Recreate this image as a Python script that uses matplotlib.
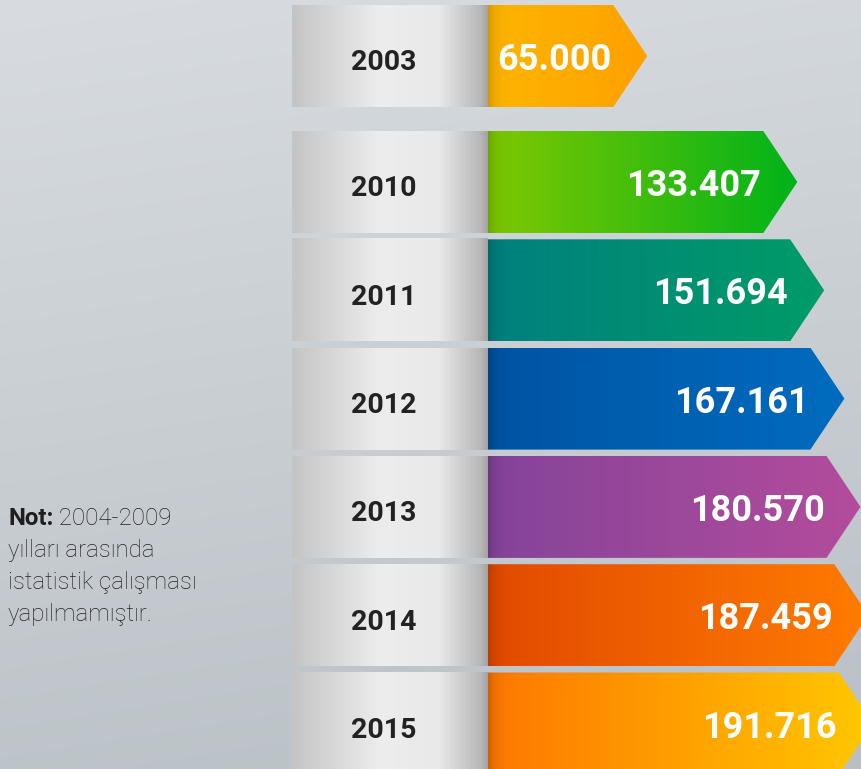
import numpy as np
import matplotlib
matplotlib.use("Agg")
import matplotlib.pyplot as plt
from matplotlib.colors import to_rgb
from matplotlib.patches import Polygon

# ---------------- data ----------------
years = ["2003", "2010", "2011", "2012", "2013", "2014", "2015"]
values = [65000, 133407, 151694, 167161, 180570, 187459, 191716]
value_labels = ["65.000", "133.407", "151.694", "167.161", "180.570", "187.459", "191.716"]
note_bold = "Not:"
note_rest = " 2004-2009"
note_lines = ["yılları arasında", "istatistik çalışması", "yapılmamıştır."]

# gradient colours per bar (left, right)
bar_colors = [
    ("#ffb600", "#ffa000"),
    ("#80c800", "#00b31a"),
    ("#00807f", "#009c68"),
    ("#0053a3", "#006cbf"),
    ("#84449a", "#b44c9c"),
    ("#e24a00", "#ff7c00"),
    ("#ff7800", "#ffc800"),
]

W, H = 861, 769
DPI = 100
fig = plt.figure(figsize=(W / DPI, H / DPI), dpi=DPI)

# base axes in pixel units (y downward)
ax = fig.add_axes([0, 0, 1, 1])
ax.set_xlim(0, W)
ax.set_ylim(H, 0)
ax.axis("off")

# value axes: log scale starting at the arrow base
x0_px = 488
ax2 = fig.add_axes([x0_px / W, 0, 1 - x0_px / W, 1])
ax2.set_xscale("log")
ax2.set_xlim(30300, 181000)
ax2.set_ylim(H, 0)
ax2.axis("off")
ax2.patch.set_alpha(0)

# background gradient
gy = np.linspace(0, 1, 256)[:, None]
gx = np.linspace(0, 1, 256)[None, :]
t = np.clip(0.85 * gy + 0.15 * gx, 0, 1)
top = np.array(to_rgb("#d8dce0"))
bot = np.array(to_rgb("#b9c0c5"))
bg = top[None, None, :] * (1 - t[..., None]) + bot[None, None, :] * t[..., None]
ax.imshow(bg, extent=(0, W, H, 0), aspect="auto", zorder=0, interpolation="bilinear")

# row layout
row_h = 102
first_top = 5
gap_top = 131
pitch = 108.3
tops = [first_top] + [gap_top + (i - 1) * pitch for i in range(1, len(years))]

box_x0, box_x1 = 292, x0_px
box_stops = [0.0, 0.45, 0.75, 0.96, 1.0]
box_cols = ["#c4c4c4", "#ededed", "#e9e9e9", "#b8b8b8", "#a4a4a4"]
xs = np.linspace(0, 1, 200)
box_grad = np.stack([np.interp(xs, box_stops, [to_rgb(c)[k] for c in box_cols]) for k in range(3)], axis=-1)[None, :, :]

point_w = 34

fig.canvas.draw()
inv = ax.transData.inverted()
fam = ["Roboto", "DejaVu Sans"]

for i, (yr, v, lab, (c0, c1)) in enumerate(zip(years, values, value_labels, bar_colors)):
    yt = tops[i]
    yb = yt + row_h
    yc = yt + row_h / 2

    # year box
    ax.imshow(box_grad, extent=(box_x0, box_x1, yb, yt), aspect="auto", zorder=2,
              interpolation="bilinear")
    ax.text((box_x0 + box_x1) / 2 - 6, yc + 7, yr, ha="center", va="center",
            fontsize=20.5, fontweight="bold", family=fam,
            color="#222222", zorder=5)

    # tip location via log scale
    tip_disp = ax2.transData.transform((v, 0))
    tip_x = inv.transform(tip_disp)[0]
    body_end = tip_x - point_w
    verts = [(x0_px, yt), (body_end, yt), (tip_x, yc), (body_end, yb), (x0_px, yb)]
    poly = Polygon(verts, closed=True, facecolor="none", edgecolor="none", zorder=3)
    ax.add_patch(poly)

    a = np.array(to_rgb(c0)); b = np.array(to_rgb(c1))
    gxx = np.linspace(0, 1, 256)
    grad = a[None, :] * (1 - gxx[:, None]) + b[None, :] * gxx[:, None]
    # darker strip at the left edge (shadow)
    shade = 1 - 0.18 * np.exp(-gxx * (tip_x - x0_px) / 7.0)
    grad = grad * shade[:, None]
    img = ax.imshow(grad[None, :, :], extent=(x0_px, tip_x, yb, yt), aspect="auto",
                    zorder=3, interpolation="bilinear")
    img.set_clip_path(poly)

    ax.text(tip_x - 36, yc + 4, lab, ha="right", va="center", fontsize=26,
            fontweight="bold", family=fam, color="white", zorder=6)

# note text
t1 = ax.text(8, 525, note_bold, ha="left", va="baseline", fontsize=17.3,
             fontweight="bold", family=fam, color="#1e1e1e", zorder=6)
ax.annotate(note_rest, xy=(1, 0), xycoords=t1, ha="left", va="bottom",
            fontsize=17.3, fontweight="light", family=fam, color="#232323", zorder=6)
for j, line in enumerate(note_lines):
    ax.text(8, 525 + 32 * (j + 1), line, ha="left", va="baseline", fontsize=17.3,
            fontweight="light", family=fam, color="#232323", zorder=6)

fig.savefig("out.png", dpi=DPI)
